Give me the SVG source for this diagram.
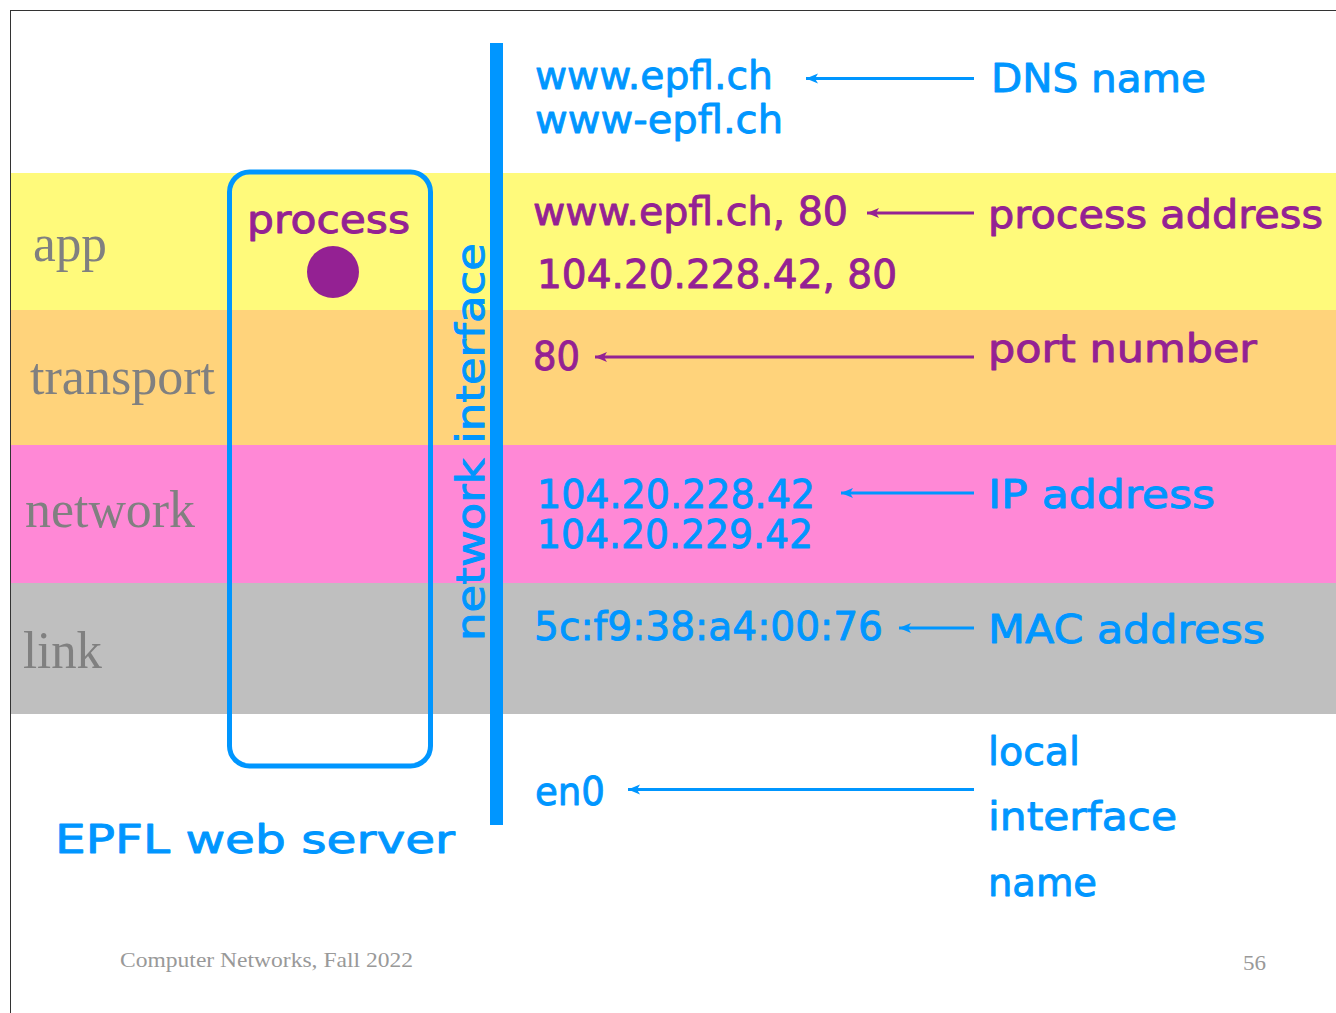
<svg xmlns="http://www.w3.org/2000/svg" width="1336" height="1013" viewBox="0 0 1336 1013">
<style>
.c{font-family:"DejaVu Sans","Noto Sans",sans-serif;font-size:39px;stroke-width:0.9px;stroke-linejoin:round}
.b{fill:#0096FF;stroke:#0096FF}
.p{fill:#942193;stroke:#942193}
.layer{font-family:"Liberation Serif","Times New Roman",serif;font-size:52px;fill:#808080}
.foot{font-family:"Liberation Serif","Times New Roman",serif;font-size:22px;fill:#999999}
.lb{stroke:#0096FF;stroke-width:3;fill:none}
.lp{stroke:#942193;stroke-width:3;fill:none}
</style>
<defs>
<marker id="ab" markerUnits="userSpaceOnUse" markerWidth="14" markerHeight="12" refX="12" refY="6" orient="auto"><path d="M0,1 L12,6 L0,11 L3,6 Z" fill="#0096FF"/></marker>
<marker id="ap" markerUnits="userSpaceOnUse" markerWidth="14" markerHeight="12" refX="12" refY="6" orient="auto"><path d="M0,1 L12,6 L0,11 L3,6 Z" fill="#942193"/></marker>
</defs>
<rect width="1336" height="1013" fill="#FFFFFF"/>
<g id="bands">
<rect x="11" y="173" width="1325" height="137" fill="#FFFA7B"/>
<rect x="11" y="310" width="1325" height="135" fill="#FFD37B"/>
<rect x="11" y="445" width="1325" height="138" fill="#FF88D6"/>
<rect x="11" y="583" width="1325" height="131" fill="#BFBFBF"/>
</g>
<g id="frame" stroke="#333333" stroke-width="1">
<line x1="10" y1="10.5" x2="1336" y2="10.5"/>
<line x1="10.5" y1="10" x2="10.5" y2="1013"/>
</g>
<g id="layers">
<text class="layer" x="33" y="261" textLength="74" lengthAdjust="spacingAndGlyphs">app</text>
<text class="layer" x="30" y="394" textLength="185" lengthAdjust="spacingAndGlyphs">transport</text>
<text class="layer" x="25" y="527" textLength="170" lengthAdjust="spacingAndGlyphs">network</text>
<text class="layer" x="23" y="668" textLength="79" lengthAdjust="spacingAndGlyphs">link</text>
</g>
<g id="process-box">
<rect x="229.5" y="172" width="201" height="594" rx="20" ry="20" fill="none" stroke="#0096FF" stroke-width="5"/>
<text class="c p" x="247" y="233" font-size="42" textLength="163" lengthAdjust="spacingAndGlyphs">process</text>
<circle cx="333" cy="272" r="26" fill="#942193"/>
</g>
<g id="network-interface">
<rect x="490" y="43" width="13" height="782" fill="#0096FF"/>
<text class="c b" transform="translate(484,641) rotate(-90)" font-size="40" textLength="398" lengthAdjust="spacingAndGlyphs">network interface</text>
</g>
<g id="server-label">
<text class="c b" x="55" y="853" font-size="42" textLength="400" lengthAdjust="spacingAndGlyphs">EPFL web server</text>
</g>
<g id="dns">
<text class="c b" x="535" y="89" textLength="238" lengthAdjust="spacingAndGlyphs">www.epfl.ch</text>
<text class="c b" x="535" y="133" textLength="248" lengthAdjust="spacingAndGlyphs">www-epfl.ch</text>
<text class="c b" x="991" y="92" textLength="215" lengthAdjust="spacingAndGlyphs">DNS name</text>
</g>
<g id="process-address">
<text class="c p" x="533" y="225" textLength="315" lengthAdjust="spacingAndGlyphs">www.epfl.ch, 80</text>
<text class="c p" x="537" y="288" textLength="360" lengthAdjust="spacingAndGlyphs">104.20.228.42, 80</text>
<text class="c p" x="988" y="228" textLength="335" lengthAdjust="spacingAndGlyphs">process address</text>
</g>
<g id="port">
<text class="c p" x="533" y="370" textLength="47" lengthAdjust="spacingAndGlyphs">80</text>
<text class="c p" x="988" y="362" textLength="269" lengthAdjust="spacingAndGlyphs">port number</text>
</g>
<g id="ip">
<text class="c b" x="537" y="508" textLength="278" lengthAdjust="spacingAndGlyphs">104.20.228.42</text>
<text class="c b" x="537" y="548" textLength="276" lengthAdjust="spacingAndGlyphs">104.20.229.42</text>
<text class="c b" x="988" y="508" textLength="227" lengthAdjust="spacingAndGlyphs">IP address</text>
</g>
<g id="mac">
<text class="c b" x="534" y="640" textLength="349" lengthAdjust="spacingAndGlyphs">5c:f9:38:a4:00:76</text>
<text class="c b" x="988" y="643" textLength="277" lengthAdjust="spacingAndGlyphs">MAC address</text>
</g>
<g id="ifname">
<text class="c b" x="535" y="805" textLength="70" lengthAdjust="spacingAndGlyphs">en0</text>
<text class="c b" x="988" y="765" textLength="92" lengthAdjust="spacingAndGlyphs">local</text>
<text class="c b" x="988" y="830" textLength="189" lengthAdjust="spacingAndGlyphs">interface</text>
<text class="c b" x="988" y="896" textLength="109" lengthAdjust="spacingAndGlyphs">name</text>
</g>
<g id="connectors">
<line class="lb" x1="974" y1="78.5" x2="806" y2="78.5" marker-end="url(#ab)"/>
<line class="lp" x1="974" y1="213" x2="867" y2="213" marker-end="url(#ap)"/>
<line class="lp" x1="974" y1="357" x2="595" y2="357" marker-end="url(#ap)"/>
<line class="lb" x1="974" y1="493" x2="841" y2="493" marker-end="url(#ab)"/>
<line class="lb" x1="974" y1="628" x2="899" y2="628" marker-end="url(#ab)"/>
<line class="lb" x1="974" y1="789.5" x2="628" y2="789.5" marker-end="url(#ab)"/>
</g>
<g id="footer">
<text class="foot" x="120" y="967" textLength="293" lengthAdjust="spacingAndGlyphs">Computer Networks, Fall 2022</text>
<text class="foot" x="1243" y="970" textLength="23" lengthAdjust="spacingAndGlyphs">56</text>
</g>
</svg>
